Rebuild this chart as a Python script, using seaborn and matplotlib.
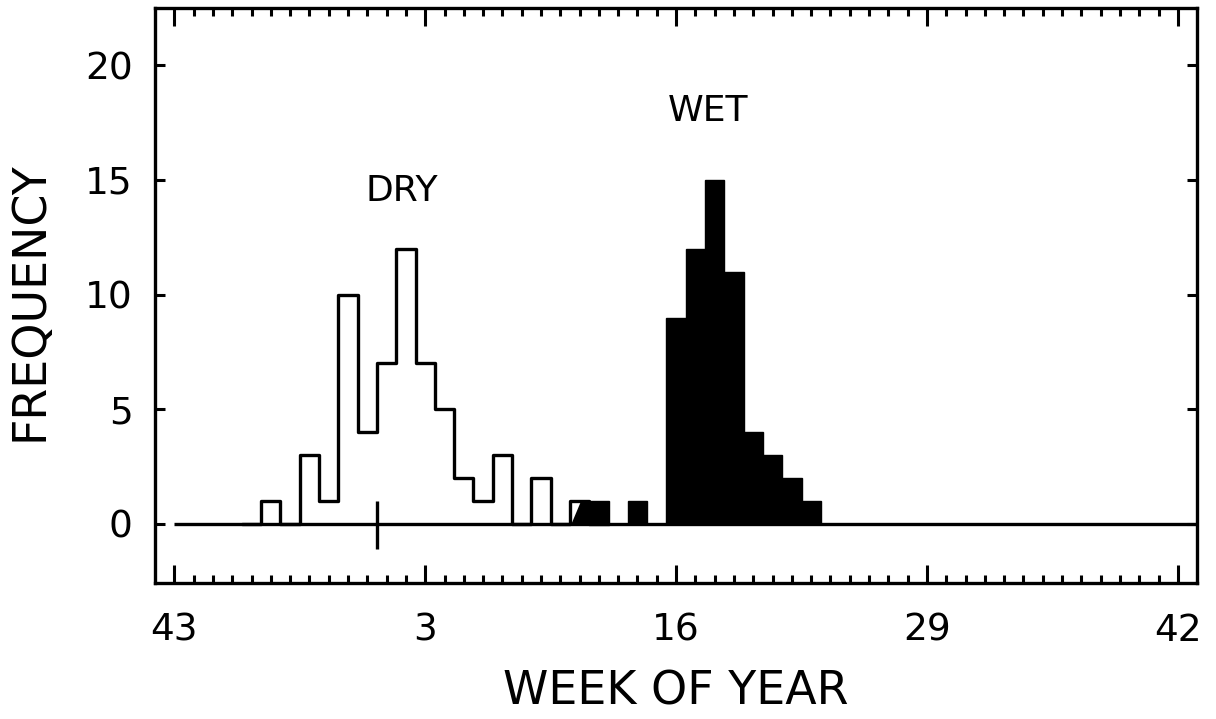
import numpy as np
import pandas as pd
import matplotlib
matplotlib.use("Agg")
import matplotlib.pyplot as plt
import seaborn as sns

# Week axis: position 0 is week 43, running 52 weeks through week 42
tick_positions = [0, 13, 26, 39, 52]
tick_labels = ["43", "3", "16", "29", "42"]

# Dry-season onset: counts per week (positions 4..22, zeros pad the ends)
dry_weeks = list(range(4, 23))
dry_counts = [0, 1, 0, 3, 1, 10, 4, 7, 12, 7, 5, 2, 1, 3, 0, 2, 0, 1, 0]

# Wet-season onset: counts per week (positions 22..33)
wet_weeks = list(range(22, 34))
wet_counts = [1, 0, 1, 0, 9, 12, 15, 11, 4, 3, 2, 1]

# Week 1 boundary (between positions 10 and 11)
new_year_pos = 10.5

sns.set_style("ticks")
plt.rcParams["font.family"] = ["DejaVu Sans"]
plt.rcParams.update({"text.color": "black", "axes.labelcolor": "black",
                     "xtick.color": "black", "ytick.color": "black"})

fig = plt.figure(figsize=(12.16, 7.19), dpi=100)
ax = fig.add_axes([0.1275, 0.1885, 0.857, 0.8004])

dry = pd.DataFrame({"week": dry_weeks, "n": dry_counts})
wet = pd.DataFrame({"week": wet_weeks, "n": wet_counts})

# zero line across the season axis
ax.hlines(0, tick_positions[0], tick_positions[-1] + 1, color="black", lw=2.4, zorder=1)

# open step outline for the dry season
sns.histplot(data=dry, x="week", weights="n", discrete=True, element="step",
             fill=False, color="black", linewidth=2.4, ax=ax, zorder=3)

# solid bars for the wet season
sns.histplot(data=wet, x="week", weights="n", discrete=True, element="bars",
             fill=True, color="black", edgecolor="black", alpha=1, linewidth=1.0,
             ax=ax, zorder=4)

# partly shaded overlap week where the wet fill begins inside the dry bar
c = dry_weeks[dry_counts.index(1, 15)]
h = dry_counts[dry_weeks.index(c)]
ax.fill([c - 0.42, c + 0.08, c + 0.5, c + 0.5], [0, h, h, 0],
        color="black", lw=0, zorder=4)

# week-1 marker
ax.vlines(new_year_pos, -1.1, 1, color="black", lw=2.4, zorder=5)

ax.text(11.8, 14.5, "DRY", ha="center", va="center", fontsize=26)
ax.text(27.65, 18.0, "WET", ha="center", va="center", fontsize=26)

ax.set_xlim(-1, 53)
ax.set_ylim(-2.6, 22.5)

ax.set_xticks(tick_positions)
ax.set_xticklabels(tick_labels)
ax.set_xticks(range(0, 53), minor=True)
ax.set_yticks([0, 5, 10, 15, 20])

ax.tick_params(axis="x", which="major", direction="in", length=13, width=2.2,
               top=True, bottom=True, labelsize=27, pad=21)
ax.tick_params(axis="x", which="minor", direction="in", length=6, width=2.2,
               top=True, bottom=True)
ax.tick_params(axis="y", which="major", direction="in", length=7, width=2.2,
               left=True, right=True, labelsize=27, pad=16)

for s in ax.spines.values():
    s.set_visible(True)
    s.set_linewidth(2.4)
    s.set_color("black")

ax.set_xlabel("WEEK OF YEAR", fontsize=33)
ax.set_ylabel("FREQUENCY", fontsize=33)
ax.xaxis.set_label_coords(0.5, -0.15)
ax.yaxis.set_label_coords(-0.098, 0.49)

fig.savefig("out.png", dpi=100, facecolor="white")
